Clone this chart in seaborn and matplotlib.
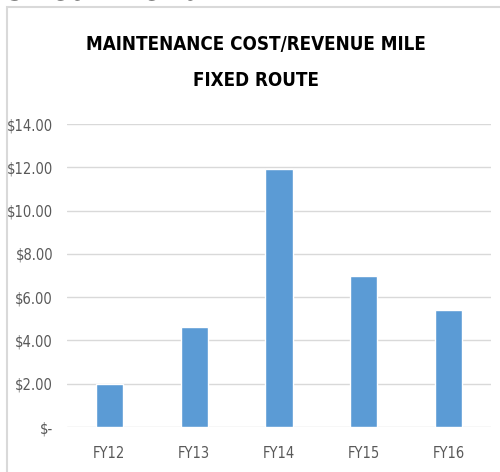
import matplotlib
matplotlib.use("Agg")
import matplotlib.pyplot as plt
import seaborn as sns
from matplotlib.patches import Rectangle
from matplotlib.ticker import FuncFormatter

# Données
years = ["FY12", "FY13", "FY14", "FY15", "FY16"]
cost_per_mile = [1.97, 4.64, 11.93, 6.97, 5.42]
y_ticks = [0, 2, 4, 6, 8, 10, 12, 14]

sns.set_theme(style="white")
plt.rcParams["font.family"] = ["DejaVu Sans"]
plt.rcParams["font.stretch"] = "condensed"

fig = plt.figure(figsize=(5, 4.72), dpi=100)
ax = fig.add_axes([0.134, 0.0953, 0.848, 0.6419])

sns.barplot(x=years, y=cost_per_mile, color="#5B9BD5", saturation=1,
            width=0.32, ax=ax)

ax.set_ylim(0, 14)
ax.set_xlim(-0.5, 4.5)
ax.set_yticks(y_ticks)
ax.yaxis.set_major_formatter(FuncFormatter(lambda v, p: "$-" if v == 0 else f"${v:.2f}"))
ax.grid(axis="y", color="#D9D9D9", linewidth=1)
ax.set_axisbelow(True)
sns.despine(ax=ax, left=True, top=True, right=True, bottom=True)
ax.tick_params(axis="y", length=0, pad=10, labelsize=10.5, labelcolor="#595959")
ax.tick_params(axis="x", length=0, pad=14, labelsize=10.5, labelcolor="#595959")

# Cadre du graphique
fig.patches.append(Rectangle((7 / 500, -0.1), 1.2, 1 - 7 / 472 + 0.1,
                             transform=fig.transFigure, fill=False,
                             edgecolor="#D9D9D9", linewidth=1.5))

fig.text(0.512, 1 - 45 / 472, "MAINTENANCE COST/REVENUE MILE",
         ha="center", va="center", fontsize=13.5, fontweight="bold", color="black")
fig.text(0.512, 1 - 80 / 472, "FIXED ROUTE",
         ha="center", va="center", fontsize=13.5, fontweight="bold", color="black")

# Titre de la diapositive, coupé en haut
fig.text(0.012, 1.0, "5-Year Trend", ha="left", va="baseline",
         fontsize=26, color="black")

fig.savefig("out.png", dpi=100)
